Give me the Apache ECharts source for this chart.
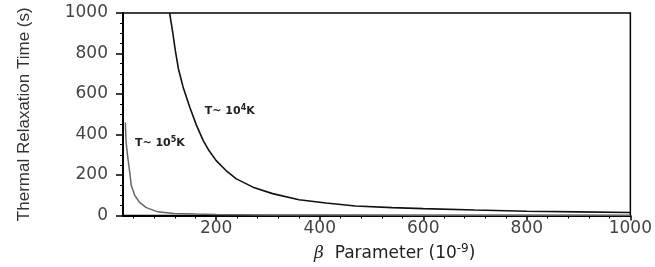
<!DOCTYPE html>
<html>
<head>
<meta charset="utf-8">
<script src="https://cdn.jsdelivr.net/npm/echarts@6/dist/echarts.min.js"></script>
<style>
  html, body { margin: 0; padding: 0; background: #fff; }
  #chart { width: 655px; height: 267px; }
</style>
</head>
<body>
<div id="chart"></div>
<script>
// T ~ 10^4 K curve
var beta1 = [110, 116, 121, 127, 136, 149, 162, 175, 185, 200, 219, 239, 271, 309, 360, 412, 469, 540, 600, 700, 800, 900, 1000];
var tau1 = [1000, 905, 815, 725, 635, 535, 445, 370, 325, 271, 222, 181, 140, 108, 78, 62, 47, 39, 34, 27, 21, 18, 15];

// T ~ 10^5 K curve
var beta2 = [24.5, 26, 29.6, 33, 36, 42.5, 52, 65, 87, 119, 160, 200, 300, 400, 600, 800, 1000];
var tau2 = [459, 361, 279, 214, 149, 100, 65, 39, 18, 10, 7, 5, 3, 2, 1, 0.7, 0.5];

var xMajor = [200, 400, 600, 800, 1000];
var xMinor = [40, 80, 120, 160, 240, 280, 320, 360, 440, 480, 520, 560, 640, 680, 720, 760, 840, 880, 920, 960];

function pairs(xs, ys) {
    var out = [];
    for (var i = 0; i < xs.length; i++) {
        out.push([xs[i], ys[i]]);
    }
    return out;
}

function plain(v) {
    return String(v);
}

var labelRich = {
    t: {fontFamily: 'DejaVu Sans', fontSize: 11, fontWeight: 'bold', color: '#222'},
    s: {fontFamily: 'DejaVu Sans', fontSize: 8, fontWeight: 'bold', color: '#222', padding: [0, 0, 7, 0]}
};

var chart = echarts.init(document.getElementById('chart'), null, {renderer: 'canvas'});

var option = {
    backgroundColor: '#fff',
    animation: false,
    grid: {
        left: 123, right: 23, top: 13, bottom: 50,
        show: true,
        borderColor: '#000',
        borderWidth: 1.5
    },
    xAxis: [
        {
            type: 'value',
            min: 20,
            max: 1000,
            axisLine: {lineStyle: {color: '#000', width: 2}},
            axisTick: {show: true, customValues: xMajor, length: 5, inside: false, lineStyle: {color: '#000', width: 1.5}},
            axisLabel: {
                customValues: xMajor,
                formatter: plain,
                margin: 5,
                color: '#444',
                fontFamily: 'DejaVu Sans',
                fontSize: 17
            },
            splitLine: {show: false},
            name: '{b|β}  Parameter (10{s|-9})',
            nameLocation: 'middle',
            nameGap: 27,
            nameTextStyle: {
                fontFamily: 'DejaVu Sans',
                fontSize: 17,
                color: '#222',
                padding: [0, 0, 0, 36],
                rich: {
                    b: {fontFamily: 'DejaVu Serif', fontStyle: 'italic', fontSize: 17, color: '#222'},
                    s: {fontFamily: 'DejaVu Sans', fontSize: 12, color: '#222', padding: [0, 0, 10, 0]}
                }
            }
        },
        {
            // minor ticks only
            type: 'value',
            min: 20,
            max: 1000,
            position: 'bottom',
            axisLine: {show: false},
            axisTick: {show: true, customValues: xMinor, length: 3, lineStyle: {color: '#000', width: 1}},
            axisLabel: {show: false},
            splitLine: {show: false}
        }
    ],
    yAxis: {
        type: 'value',
        min: 0,
        max: 1000,
        interval: 200,
        axisLine: {show: true, lineStyle: {color: '#000', width: 2}},
        axisTick: {show: true, length: 7, lineStyle: {color: '#000', width: 1.5}},
        minorTick: {show: true, splitNumber: 4, length: 3, lineStyle: {color: '#000', width: 1}},
        axisLabel: {
            formatter: plain,
            margin: 15,
            color: '#444',
            fontFamily: 'DejaVu Sans',
            fontSize: 17
        },
        splitLine: {show: false},
        name: 'Thermal Relaxation Time (s)',
        nameLocation: 'middle',
        nameGap: 90,
        nameTextStyle: {
            fontFamily: 'Liberation Sans Narrow, Liberation Sans',
            fontSize: 17,
            color: '#333'
        }
    },
    series: [
        {
            name: 'T~10^4 K',
            type: 'line',
            data: pairs(beta1, tau1),
            showSymbol: false,
            lineStyle: {color: '#111', width: 1.6},
            markPoint: {
                symbol: 'circle',
                symbolSize: 0,
                label: {
                    show: true,
                    position: 'right',
                    distance: 0,
                    formatter: '{t|T~ 10}{s|4}{t|K}',
                    rich: labelRich
                },
                data: [{coord: [178, 515]}]
            }
        },
        {
            name: 'T~10^5 K',
            type: 'line',
            data: pairs(beta2, tau2),
            showSymbol: false,
            lineStyle: {color: '#666', width: 1.5},
            markPoint: {
                symbol: 'circle',
                symbolSize: 0,
                label: {
                    show: true,
                    position: 'right',
                    distance: 0,
                    formatter: '{t|T~ 10}{s|5}{t|K}',
                    rich: labelRich
                },
                data: [{coord: [43, 355]}]
            }
        }
    ]
};

chart.setOption(option);
</script>
</body>
</html>
